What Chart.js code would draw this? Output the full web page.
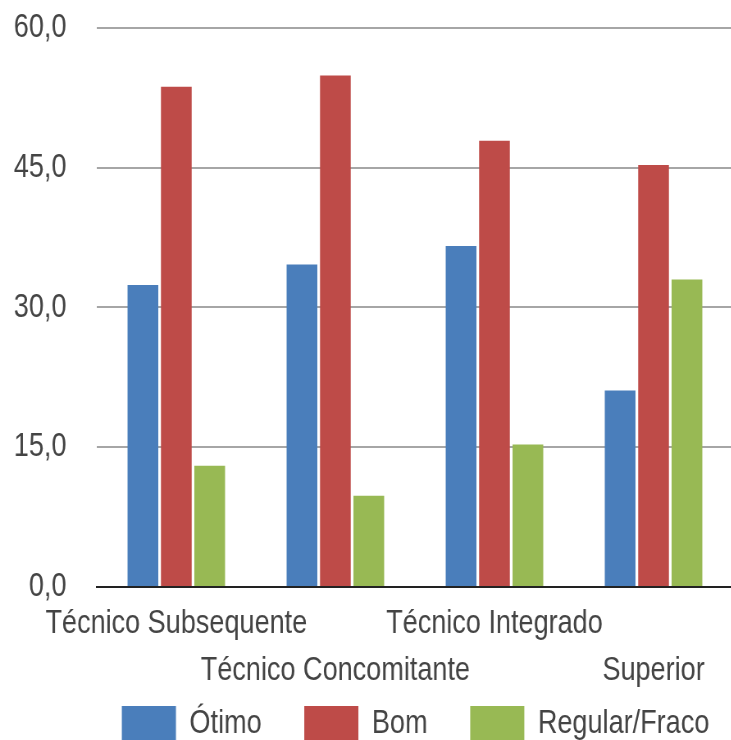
<!DOCTYPE html>
<html>
<head>
<meta charset="utf-8">
<script src="https://cdn.jsdelivr.net/npm/chart.js@4.4.1/dist/chart.umd.min.js"></script>
<style>
  html, body { margin: 0; padding: 0; background: #fff; overflow: hidden; }
  /* fonte estreita: desenha mais largo e comprime na horizontal */
  #myChart { transform: scaleX(0.82); transform-origin: 0 0; }
</style>
</head>
<body>
<canvas id="myChart" width="894" height="806"></canvas>
<script>
let categorias = [
  ["Técnico Subsequente", ""],
  ["", "Técnico Concomitante"],
  ["Técnico Integrado", ""],
  ["", "Superior"],
];
let otimo = [32.4, 34.6, 36.6, 21.1];
let bom = [53.7, 54.9, 47.9, 45.3];
let regular = [13.0, 9.8, 15.3, 33.0];
let yTicks = ["0,0", "15,0", "30,0", "45,0", "60,0"];

Chart.defaults.font.family = "'Liberation Sans', Arial, sans-serif";
Chart.defaults.color = "#444";

// sobe a legenda para perto dos rótulos do eixo x
const subirLegenda = {
  id: "subirLegenda",
  afterLayout(chart) {
    chart.legend.top -= 54;
    chart.legend.bottom -= 54;
    chart.legend.left += 23;
    chart.legend.right += 23;
  },
};

const ctx = document.getElementById("myChart");
const myChart = new Chart(ctx, {
  type: "bar",
  data: {
    labels: categorias,
    datasets: [
      { label: "Ótimo", data: otimo, backgroundColor: "#4a7ebb" },
      { label: "Bom", data: bom, backgroundColor: "#be4b48" },
      { label: "Regular/Fraco", data: regular, backgroundColor: "#98b954" },
    ],
  },
  plugins: [subirLegenda],
  options: {
    responsive: false,
    animation: false,
    categoryPercentage: 0.63,
    barPercentage: 0.92,
    layout: { padding: { top: 28, left: 0, right: 0, bottom: 0 } },
    plugins: {
      tooltip: { enabled: false },
      legend: {
        position: "bottom",
        align: "end",
        labels: {
          boxWidth: 66,
          boxHeight: 36,
          padding: 52,
          font: { size: 33 },
          color: "#444",
        },
      },
    },
    scales: {
      x: {
        grid: { display: false, drawTicks: false },
        border: { color: "#222", width: 2 },
        ticks: {
          autoSkip: false,
          maxRotation: 0,
          minRotation: 0,
          padding: 14,
          font: { size: 33, lineHeight: 1.41 },
          color: "#444",
        },
      },
      y: {
        min: 0,
        max: 60,
        afterFit: (scale) => {
          scale.width = 118;
          scale.paddingTop = 0;
          scale.paddingBottom = 0;
        },
        grid: { color: "#a6a6a6", lineWidth: 2, drawTicks: false },
        border: { display: false },
        ticks: {
          stepSize: 15,
          padding: 37,
          font: { size: 33 },
          color: "#444",
          callback: (v, i) => yTicks[i],
        },
      },
    },
  },
});
</script>
</body>
</html>
